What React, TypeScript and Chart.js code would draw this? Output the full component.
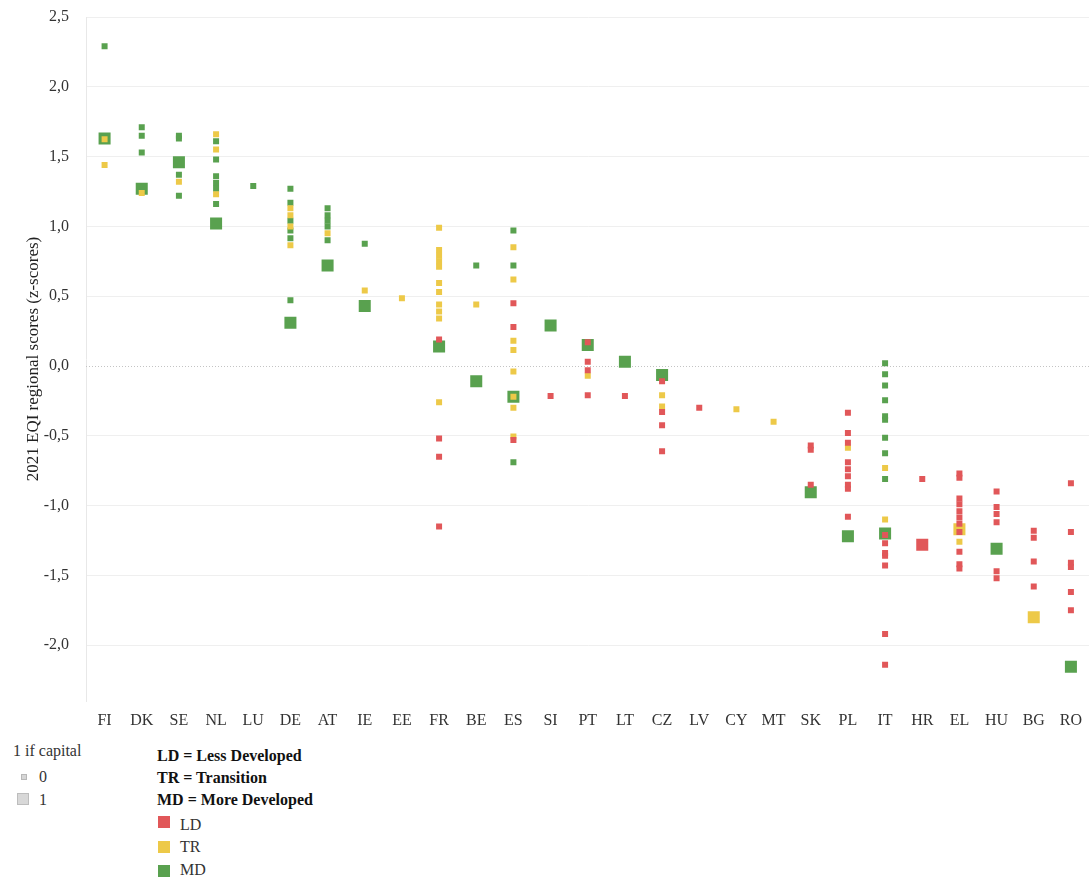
import React, { useEffect, useRef } from 'react';
import { Chart, registerables } from 'chart.js';

Chart.register(...registerables);

const countries = ['FI','DK','SE','NL','LU','DE','AT','IE','EE','FR','BE','ES','SI','PT','LT','CZ','LV','CY','MT','SK','PL','IT','HR','EL','HU','BG','RO'];

const yTickValues = [-2, -1.5, -1, -0.5, 0, 0.5, 1, 1.5, 2, 2.5];

// Less developed regions (non-capital)
const ldRegions: [string, number][] = [
  ['FR', 0.19], ['FR', -0.52], ['FR', -0.65], ['FR', -1.15],
  ['ES', 0.45], ['ES', 0.28], ['ES', -0.53],
  ['SI', -0.215],
  ['PT', 0.17], ['PT', 0.03], ['PT', -0.03], ['PT', -0.21],
  ['LT', -0.215],
  ['CZ', -0.11], ['CZ', -0.33], ['CZ', -0.425], ['CZ', -0.61],
  ['LV', -0.30],
  ['SK', -0.57], ['SK', -0.60], ['SK', -0.85],
  ['PL', -0.335], ['PL', -0.48], ['PL', -0.55], ['PL', -0.69], ['PL', -0.74], ['PL', -0.79], ['PL', -0.85], ['PL', -0.88], ['PL', -1.08],
  ['IT', -1.21], ['IT', -1.27], ['IT', -1.34], ['IT', -1.36], ['IT', -1.43], ['IT', -1.92], ['IT', -2.14],
  ['HR', -0.81],
  ['EL', -0.77], ['EL', -0.80], ['EL', -0.95], ['EL', -0.99], ['EL', -1.04], ['EL', -1.085], ['EL', -1.13], ['EL', -1.19], ['EL', -1.33], ['EL', -1.42], ['EL', -1.45],
  ['HU', -0.90], ['HU', -1.01], ['HU', -1.06], ['HU', -1.12], ['HU', -1.47], ['HU', -1.52],
  ['BG', -1.18], ['BG', -1.23], ['BG', -1.40], ['BG', -1.58],
  ['RO', -0.84], ['RO', -1.19], ['RO', -1.41], ['RO', -1.44], ['RO', -1.62], ['RO', -1.75],
];

// Transition regions (non-capital)
const trRegions: [string, number][] = [
  ['FI', 1.625], ['FI', 1.44],
  ['DK', 1.24],
  ['SE', 1.32],
  ['NL', 1.66], ['NL', 1.55], ['NL', 1.23],
  ['DE', 1.13], ['DE', 1.08], ['DE', 1.00], ['DE', 0.865],
  ['AT', 0.95],
  ['IE', 0.54],
  ['EE', 0.485],
  ['FR', 0.99], ['FR', 0.83], ['FR', 0.79], ['FR', 0.75], ['FR', 0.71], ['FR', 0.595], ['FR', 0.53], ['FR', 0.44], ['FR', 0.39], ['FR', 0.34], ['FR', -0.26],
  ['BE', 0.44],
  ['ES', 0.85], ['ES', 0.62], ['ES', 0.18], ['ES', 0.115], ['ES', -0.04], ['ES', -0.22], ['ES', -0.30], ['ES', -0.505],
  ['PT', -0.07],
  ['CZ', -0.21], ['CZ', -0.29],
  ['CY', -0.31],
  ['MT', -0.40],
  ['PL', -0.585],
  ['IT', -0.73], ['IT', -1.10],
  ['EL', -1.26],
];

// More developed regions (non-capital)
const mdRegions: [string, number][] = [
  ['FI', 2.29],
  ['DK', 1.71], ['DK', 1.65], ['DK', 1.53],
  ['SE', 1.65], ['SE', 1.63], ['SE', 1.37], ['SE', 1.22],
  ['NL', 1.61], ['NL', 1.48], ['NL', 1.36], ['NL', 1.31], ['NL', 1.27], ['NL', 1.16],
  ['LU', 1.29],
  ['DE', 1.27], ['DE', 1.17], ['DE', 1.04], ['DE', 0.97], ['DE', 0.915], ['DE', 0.47],
  ['AT', 1.13], ['AT', 1.08], ['AT', 1.04], ['AT', 1.00], ['AT', 0.90],
  ['IE', 0.875],
  ['BE', 0.72],
  ['ES', 0.97], ['ES', 0.72], ['ES', -0.69],
  ['IT', 0.02], ['IT', -0.06], ['IT', -0.14], ['IT', -0.245], ['IT', -0.36], ['IT', -0.385], ['IT', -0.515], ['IT', -0.625], ['IT', -0.81],
];

// Capital regions
const ldCapitals: [string, number][] = [['HR', -1.28]];
const trCapitals: [string, number][] = [['EL', -1.17], ['BG', -1.80]];
const mdCapitals: [string, number][] = [
  ['FI', 1.63], ['DK', 1.27], ['SE', 1.46], ['NL', 1.02], ['DE', 0.31], ['AT', 0.72], ['IE', 0.43],
  ['FR', 0.14], ['BE', -0.11], ['ES', -0.22], ['SI', 0.29], ['PT', 0.15], ['LT', 0.03], ['CZ', -0.065],
  ['SK', -0.905], ['PL', -1.22], ['IT', -1.20], ['HU', -1.31], ['RO', -2.155],
];

const RED = '#E15759';
const YELLOW = '#EDC948';
const GREEN = '#59A14F';
const FONT = "'Liberation Serif', 'DejaVu Serif', serif";

const toPts = (arr: [string, number][]) => arr.map(([c, v]) => ({ x: countries.indexOf(c), y: v }));

const zeroLine = {
  id: 'zeroLine',
  beforeDatasetsDraw(chart: any) {
    const { ctx, chartArea, scales } = chart;
    const py = Math.round(scales.y.getPixelForValue(0)) + 0.5;
    ctx.save();
    ctx.strokeStyle = '#c4c4c4';
    ctx.lineWidth = 1;
    ctx.setLineDash([1, 2]);
    ctx.beginPath();
    ctx.moveTo(chartArea.left, py);
    ctx.lineTo(chartArea.right, py);
    ctx.stroke();
    ctx.restore();
  },
};

export default function App() {
  const ref = useRef<HTMLCanvasElement>(null);
  useEffect(() => {
    const small = 4.24;
    const big = 8.5;
    const mk = (label: string, data: [string, number][], color: string, r: number) => ({
      label,
      data: toPts(data),
      backgroundColor: color,
      borderColor: color,
      borderWidth: 0,
      pointStyle: 'rect' as const,
      pointRadius: r,
      pointHoverRadius: r,
    });
    const chart = new Chart(ref.current!, {
      type: 'scatter',
      data: {
        datasets: [
          mk('LD', ldRegions, RED, small),
          mk('TR', trRegions, YELLOW, small),
          mk('MD', mdRegions, GREEN, small),
          mk('LD capital', ldCapitals, RED, big),
          mk('TR capital', trCapitals, YELLOW, big),
          mk('MD capital', mdCapitals, GREEN, big),
        ],
      },
      options: {
        animation: false,
        responsive: false,
        layout: { padding: { top: 17, left: 0, right: 0, bottom: 0 } },
        plugins: { legend: { display: false }, tooltip: { enabled: false }, title: { display: false } },
        scales: {
          x: {
            type: 'linear',
            min: -0.5,
            max: 26.5,
            afterBuildTicks: (s: any) => { s.ticks = countries.map((_, i) => ({ value: i })); },
            afterFit: (s: any) => { s.height = 39; },
            ticks: {
              callback: (v: any) => countries[v as number] ?? '',
              autoSkip: false,
              maxRotation: 0,
              padding: 10,
              color: '#333',
              font: { family: FONT, size: 16 },
            },
            grid: { display: false, drawTicks: false },
            border: { display: false },
          },
          y: {
            min: -2.4,
            max: 2.5,
            afterBuildTicks: (s: any) => { s.ticks = yTickValues.map((v) => ({ value: v })); },
            afterFit: (s: any) => { s.width = 86; s.paddingTop = 8; s.paddingBottom = 8; },
            ticks: {
              callback: (v: any) => (v as number).toFixed(1).replace('.', ','),
              padding: 17,
              color: '#333',
              font: { family: FONT, size: 16 },
            },
            grid: {
              drawTicks: false,
              color: (c: any) => (c.tick && c.tick.value === 0 ? 'rgba(0,0,0,0)' : '#efefef'),
              lineWidth: 1,
            },
            border: { display: true, color: '#e8e8e8' },
            title: {
              display: true,
              text: '2021 EQI regional scores (z-scores)',
              color: '#222',
              font: { family: FONT, size: 17 },
              padding: { top: 23, bottom: 0 },
            },
          },
        },
      },
      plugins: [zeroLine],
    });
    return () => chart.destroy();
  }, []);

  const txt = (left: number, center: number, text: string, extra: React.CSSProperties = {}) => (
    <div style={{ position: 'absolute', left, top: center - 10, height: 20, lineHeight: '20px', fontSize: 16, color: '#333', whiteSpace: 'nowrap', ...extra }}>{text}</div>
  );
  const box = (left: number, top: number, size: number, bg: string, border?: string) => (
    <div style={{ position: 'absolute', left, top, width: size, height: size, background: bg, border: border ? `1px solid ${border}` : 'none', boxSizing: 'border-box' }} />
  );

  return (
    <div style={{ position: 'absolute', left: 0, top: 0, width: 1089, height: 878, overflow: 'hidden', background: '#fff', fontFamily: FONT }}>
      <canvas ref={ref} width={1098} height={740} style={{ position: 'absolute', left: 0, top: 0, width: 1098, height: 740 }} />
      {txt(13, 751, '1 if capital')}
      {box(21, 774, 6, '#d6d6d6', '#b8b8b8')}
      {txt(39, 777, '0')}
      {box(17, 793, 12, '#d8d8d8', '#bdbdbd')}
      {txt(39, 800, '1')}
      {txt(157, 756, 'LD = Less Developed', { fontWeight: 'bold', color: '#111' })}
      {txt(157, 778, 'TR = Transition', { fontWeight: 'bold', color: '#111' })}
      {txt(157, 800, 'MD = More Developed', { fontWeight: 'bold', color: '#111' })}
      {box(158, 816, 12, RED)}
      {txt(180, 825, 'LD')}
      {box(158, 841, 12, YELLOW)}
      {txt(180, 847, 'TR')}
      {box(158, 865, 12, GREEN)}
      {txt(180, 870, 'MD')}
    </div>
  );
}
